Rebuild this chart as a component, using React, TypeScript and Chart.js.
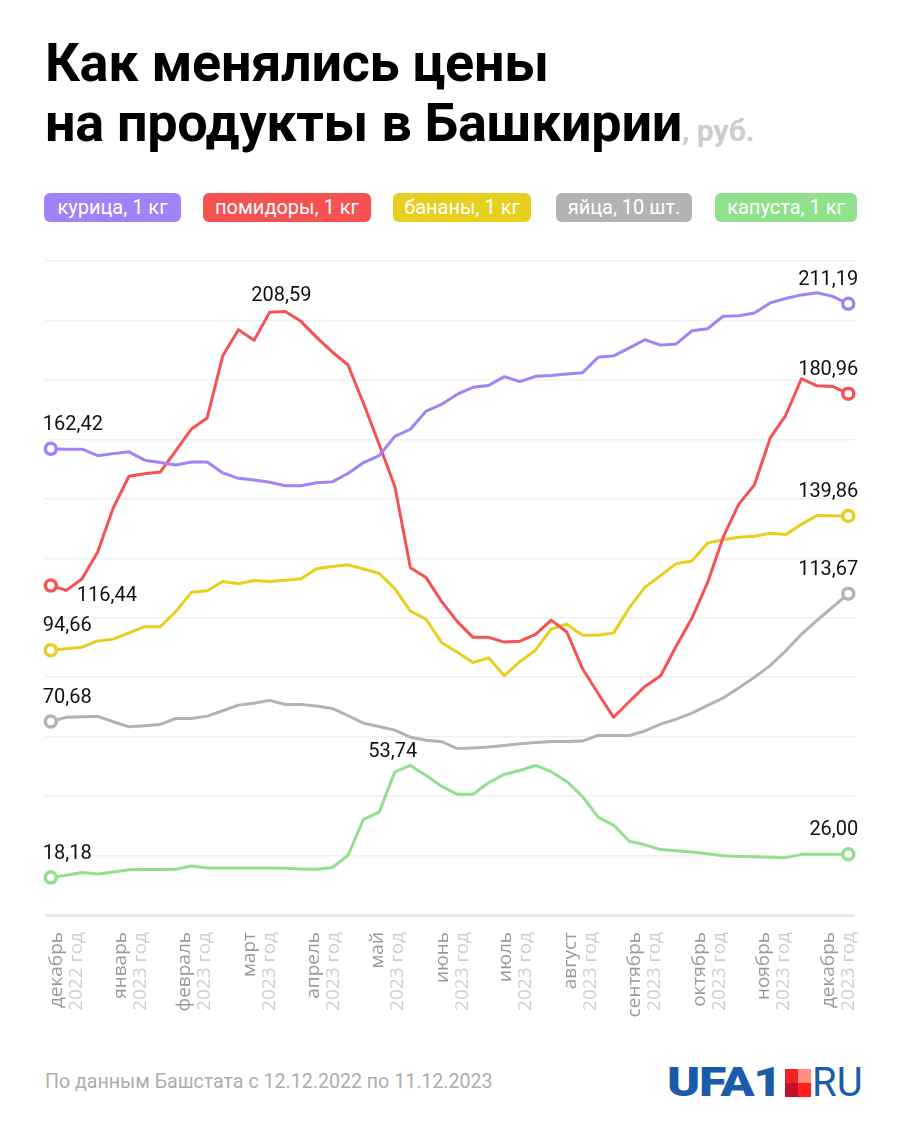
import React, { useEffect, useRef } from "react";
import { Chart, registerables } from "chart.js";

Chart.register(...registerables);

// ---- DATA (weekly observations, 12.12.2022 – 11.12.2023) ----
const chicken = [
  162.42, 162.3, 162.3, 160.1, 160.8, 161.4, 158.6, 157.8, 157.0, 158.0, 158.0, 154.3, 152.5,
  151.9, 151.2, 150.0, 150.0, 151.0, 151.3, 154.1, 157.8, 160.1, 166.6, 169.0, 175.1, 177.4,
  180.8, 183.1, 183.7, 186.7, 185.0, 186.8, 187.1, 187.6, 188.0, 193.2, 193.7, 196.4, 199.1,
  197.3, 197.7, 202.1, 202.8, 207.0, 207.2, 208.1, 211.5, 213.0, 214.2, 214.9, 213.7, 211.19,
];
const tomatoes = [
  116.44, 114.8, 118.7, 127.7, 142.6, 153.2, 154.0, 154.6, 161.8, 169.1, 172.8, 193.7, 202.5,
  198.9, 208.4, 208.59, 205.3, 199.9, 195.0, 190.7, 177.7, 163.9, 149.8, 122.4, 119.1, 111.0,
  104.3, 99.0, 99.0, 97.4, 97.7, 100.0, 104.8, 100.8, 88.5, 80.1, 72.1, 77.4, 82.5,
  86.1, 96.1, 105.4, 117.4, 132.7, 143.8, 150.3, 166.0, 173.7, 186.0, 183.6, 183.4, 180.96,
];
const bananas = [
  94.66, 95.2, 95.7, 97.8, 98.4, 100.5, 102.6, 102.6, 107.7, 114.2, 114.7, 117.8, 117.0,
  118.1, 117.8, 118.2, 118.7, 122.1, 122.8, 123.4, 122.0, 120.5, 115.4, 107.8, 105.1, 97.2,
  94.0, 90.5, 92.1, 86.1, 90.8, 94.7, 101.8, 103.4, 99.7, 99.7, 100.5, 109.0, 115.9,
  119.8, 123.8, 124.7, 130.7, 131.8, 132.7, 133.0, 134.0, 133.6, 137.0, 140.0, 139.9, 139.86,
];
const eggs = [
  70.68, 72.1, 72.3, 72.4, 70.6, 68.9, 69.3, 69.7, 71.7, 71.7, 72.5, 74.3, 76.2,
  76.8, 77.8, 76.4, 76.4, 75.9, 75.1, 72.7, 70.1, 69.0, 67.8, 65.4, 64.4, 63.9,
  61.6, 61.8, 62.1, 62.6, 63.2, 63.6, 64.0, 64.0, 64.1, 66.0, 66.0, 66.0, 67.5,
  69.8, 71.5, 73.5, 76.1, 78.6, 82.0, 85.6, 89.5, 94.5, 100.0, 104.7, 109.2, 113.67,
];
const cabbage = [
  18.18, 19.0, 19.9, 19.4, 20.1, 20.8, 20.9, 20.9, 21.0, 22.1, 21.4, 21.4, 21.4,
  21.4, 21.4, 21.3, 21.1, 21.0, 21.6, 25.6, 37.8, 40.2, 53.74, 55.9, 52.5, 48.9,
  46.2, 46.2, 50.1, 52.9, 54.2, 55.9, 53.8, 50.5, 45.5, 38.5, 35.8, 30.4, 29.2,
  27.6, 27.2, 26.8, 26.2, 25.5, 25.3, 25.2, 25.0, 24.9, 26.0, 26.0, 26.0, 26.0,
];

const seriesNames = ["курица, 1 кг", "помидоры, 1 кг", "бананы, 1 кг", "яйца, 10 шт.", "капуста, 1 кг"];
const seriesValues = [chicken, tomatoes, bananas, eggs, cabbage];
const seriesColors = ["#a282f6", "#f65252", "#e7cf1f", "#b3b3b3", "#90e18b"];

const monthNames = ["декабрь", "январь", "февраль", "март", "апрель", "май", "июнь", "июль", "август", "сентябрь", "октябрь", "ноябрь", "декабрь"];
const monthYears = ["2022 год", "2023 год", "2023 год", "2023 год", "2023 год", "2023 год", "2023 год", "2023 год", "2023 год", "2023 год", "2023 год", "2023 год", "2023 год"];
// label anchor positions on the week axis
const monthTickPos = [1.0, 5.1, 9.2, 13.35, 17.45, 21.55, 25.7, 29.75, 33.85, 37.95, 42.1, 46.2, 50.35];

const gridValues = [5.6, 25.6, 45.6, 65.6, 85.6, 105.6, 125.6, 145.6, 165.6, 185.6, 205.6, 225.6];

// which points get value labels: [series, index]
const labelledPoints: [number, number][] = [
  [0, 0], [1, 0], [2, 0], [3, 0], [4, 0],
  [1, 15], [4, 22],
  [0, 51], [1, 51], [2, 51], [3, 51], [4, 51],
];

const fmt = (v: number) => v.toFixed(2).replace(".", ",");

// label styling: align, dx, dy
function labelStyle(s: number, i: number): [CanvasTextAlign, number, number] {
  if (i === 0 && s === 1) return ["left", 26, 15];
  if (i === 0) return ["left", -8, -19];
  if (i === 51) return ["right", 10, -19];
  if (s === 1) return ["center", -4, -11];
  return ["center", -2, -15];
}

const FONT = "Roboto, 'Noto Sans', sans-serif";
const AXIS_FONT = "'Open Sans', Roboto, sans-serif";

export default function App() {
  const ref = useRef<HTMLCanvasElement | null>(null);

  useEffect(() => {
    if (!ref.current) return;
    const n = chicken.length;

    const valueLabels = {
      id: "valueLabels",
      afterDatasetsDraw(chart: any) {
        const ctx = chart.ctx;
        ctx.save();
        ctx.font = `20px ${FONT}`;
        ctx.fillStyle = "#111";
        ctx.textBaseline = "alphabetic";
        labelledPoints.forEach(([s, i]) => {
          const el = chart.getDatasetMeta(s).data[i];
          const [align, dx, dy] = labelStyle(s, i);
          ctx.textAlign = align;
          ctx.fillText(fmt(seriesValues[s][i]), el.x + dx, el.y + dy);
        });
        ctx.restore();
      },
    };

    const monthLabels = {
      id: "monthLabels",
      afterDraw(chart: any) {
        const ctx = chart.ctx;
        const xs = chart.scales.x;
        const top = chart.chartArea.bottom + 17;
        ctx.save();
        ctx.font = `19px ${AXIS_FONT}`;
        ctx.textAlign = "right";
        ctx.textBaseline = "middle";
        monthTickPos.forEach((p, k) => {
          const cx = xs.getPixelForValue(p);
          const lines: [string, string, number][] = [
            [monthNames[k], "#9a9a9a", -10],
            [monthYears[k], "#cfcfcf", 10],
          ];
          lines.forEach(([t, c, off]) => {
            ctx.save();
            ctx.translate(cx + off, top);
            ctx.rotate(-Math.PI / 2);
            ctx.fillStyle = c;
            ctx.fillText(t, 0, 0);
            ctx.restore();
          });
        });
        ctx.restore();
      },
    };

    const chart = new Chart(ref.current, {
      type: "line",
      data: {
        datasets: seriesValues.map((vals, s) => ({
          label: seriesNames[s],
          data: vals.map((y, i) => ({ x: i, y })),
          borderColor: seriesColors[s],
          backgroundColor: seriesColors[s],
          borderWidth: 3,
          tension: 0,
          fill: false,
          clip: false as any,
          borderJoinStyle: "round" as const,
          borderCapStyle: "round" as const,
          pointRadius: (c: any) => (c.dataIndex === 0 || c.dataIndex === n - 1 ? 5.5 : 0),
          pointBorderWidth: 3.5,
          pointBackgroundColor: "#ffffff",
          pointBorderColor: seriesColors[s],
        })),
      },
      options: {
        animation: false,
        responsive: false,
        maintainAspectRatio: false,
        layout: { padding: { left: 45, right: 45, top: 21, bottom: 125 }, autoPadding: false } as any,
        plugins: { legend: { display: false }, tooltip: { enabled: false } },
        scales: {
          x: { type: "linear", min: -0.37, max: 51.43, display: false },
          y: {
            type: "linear",
            min: 5.6,
            max: 225.6,
            display: true,
            ticks: { display: false },
            border: { display: false },
            grid: {
              drawTicks: false,
              color: (c: any) => (c.index === 0 ? "#ebebeb" : "#f1f1f1"),
              lineWidth: (c: any) => (c.index === 0 ? 3 : 1.5),
            },
            afterBuildTicks: (sc: any) => {
              sc.ticks = gridValues.map((v) => ({ value: v }));
            },
          },
        },
      },
      plugins: [valueLabels, monthLabels],
    });
    return () => chart.destroy();
  }, []);

  const pills: [number, number][] = [
    [44, 137], [203, 168], [393, 138], [556, 136], [715, 142],
  ];

  return (
    <div style={{ position: "absolute", left: 0, top: 0, width: 900, height: 1125, background: "#fff", fontFamily: FONT, overflow: "hidden" }}>
      <div style={{ position: "absolute", left: 45, top: 33, fontSize: 54, lineHeight: "60px", fontWeight: 700, letterSpacing: -0.3, color: "#000", whiteSpace: "nowrap" }}>
        <div>Как менялись цены</div>
        <div>
          на продукты в Башкирии
          <span style={{ fontSize: 30, color: "#cdcdcd", fontWeight: 700, letterSpacing: 0 }}>, руб.</span>
        </div>
      </div>
      {seriesNames.map((nm, s) => (
        <div
          key={nm}
          style={{
            position: "absolute",
            left: pills[s][0],
            top: 193,
            width: pills[s][1],
            height: 29,
            borderRadius: 6,
            background: seriesColors[s],
            color: "#fff",
            fontSize: 20,
            lineHeight: "29px",
            textAlign: "center",
            whiteSpace: "nowrap",
          }}
        >
          {nm}
        </div>
      ))}
      <canvas ref={ref} width={900} height={800} style={{ position: "absolute", left: 0, top: 240, width: 900, height: 800 }} />
      <div style={{ position: "absolute", left: 45, top: 1070, fontSize: 19.6, color: "#adadad", whiteSpace: "nowrap" }}>
        По данным Башстата с 12.12.2022 по 11.12.2023
      </div>
      <div style={{ position: "absolute", left: 667, top: 1066, height: 34, width: 120 }}>
        <span style={{ position: "absolute", left: 0, top: 0, fontSize: 40, fontWeight: 900, color: "#1a5ca9", letterSpacing: -1, lineHeight: "34px", transform: "scaleX(1.25)", transformOrigin: "0 0", whiteSpace: "nowrap" }}>UFA1</span>
      </div>
      <div style={{ position: "absolute", left: 785, top: 1069, width: 26, height: 28, display: "grid", gridTemplateColumns: "13px 13px", gridTemplateRows: "14px 14px" }}>
        <span style={{ background: "#ee2222" }} />
        <span style={{ background: "#ff8f80" }} />
        <span style={{ background: "#c4102a" }} />
        <span style={{ background: "#ff1f1f" }} />
      </div>
      <div style={{ position: "absolute", left: 812, top: 1066, fontSize: 40, fontWeight: 400, color: "#1a5ca9", lineHeight: "34px", whiteSpace: "nowrap" }}>RU</div>
    </div>
  );
}
